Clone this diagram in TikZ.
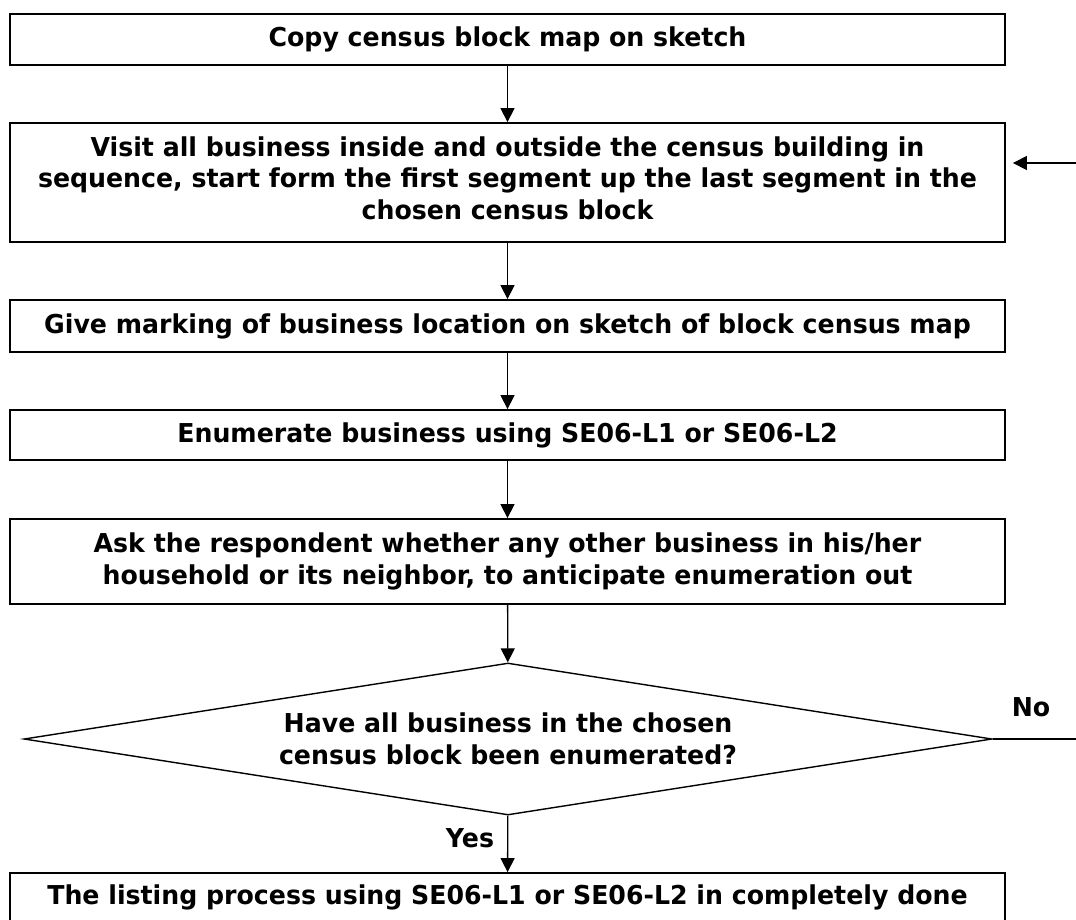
\documentclass[tikz,border=0pt]{standalone}
\usepackage{fontspec}
\setmainfont[FakeStretch=0.97]{DejaVu Sans}
\usetikzlibrary{shapes.geometric,arrows.meta}
\begin{document}
\begin{tikzpicture}[x=1pt,y=-1pt,
  font=\fontsize{26}{31.5}\selectfont\bfseries,
  box/.style={draw,line width=1.8pt,minimum width=995pt,inner sep=0pt,align=center},
  dia/.style={draw,line width=1.4pt,shape=diamond,aspect=6.37,minimum width=968pt,minimum height=152pt,inner sep=0pt,align=center},
  arr/.style={line width=1.3pt,-{Triangle[length=14pt,width=14pt]}},
  ln/.style={line width=1.3pt}]
\useasboundingbox (0,0) rectangle (1076,919);
\node[box,minimum height=51pt] (b1) at (507.5,39.5) {Copy census block map on sketch};
\node[box,minimum height=119pt] (b2) at (507.5,182.5) {\raisebox{0pt}{}Visit all business inside and outside the census building in\\sequence, start form the first segment up the last segment in the\\chosen census block\rule[-9pt]{0pt}{0pt}};
\node[box,minimum height=52pt] (b3) at (507.5,326) {Give marking of business location on sketch of block census map};
\node[box,minimum height=50pt] (b4) at (507.5,435) {Enumerate business using SE06-L1 or SE06-L2};
\node[box,minimum height=85pt] (b5) at (507.5,561.5) {Ask the respondent whether any other business in his/her\\household or its neighbor, to anticipate enumeration out};
\node[dia] (d) at (508,739) {Have all business in the chosen\\census block been enumerated?};
\node[box,minimum height=48pt] (b6) at (507.5,897) {The listing process using SE06-L1 or SE06-L2 in completely done};
\draw[arr] (b1) -- (b2);
\draw[arr] (b2) -- (b3);
\draw[arr] (b3) -- (b4);
\draw[arr] (b4) -- (b5);
\draw[arr] (b5) -- (d);
\draw[arr] (d) -- (b6);
\node (yes) at (470,838) {Yes};
\node (no) at (1031,707) {No};
\coordinate (nr) at (1076,739);
\coordinate (lr) at (1076,163);
\draw[ln] (d.east) -- (nr);
\draw[arr,shorten >=7pt] (lr) -- (lr -| b2.east);
\end{tikzpicture}
\end{document}
